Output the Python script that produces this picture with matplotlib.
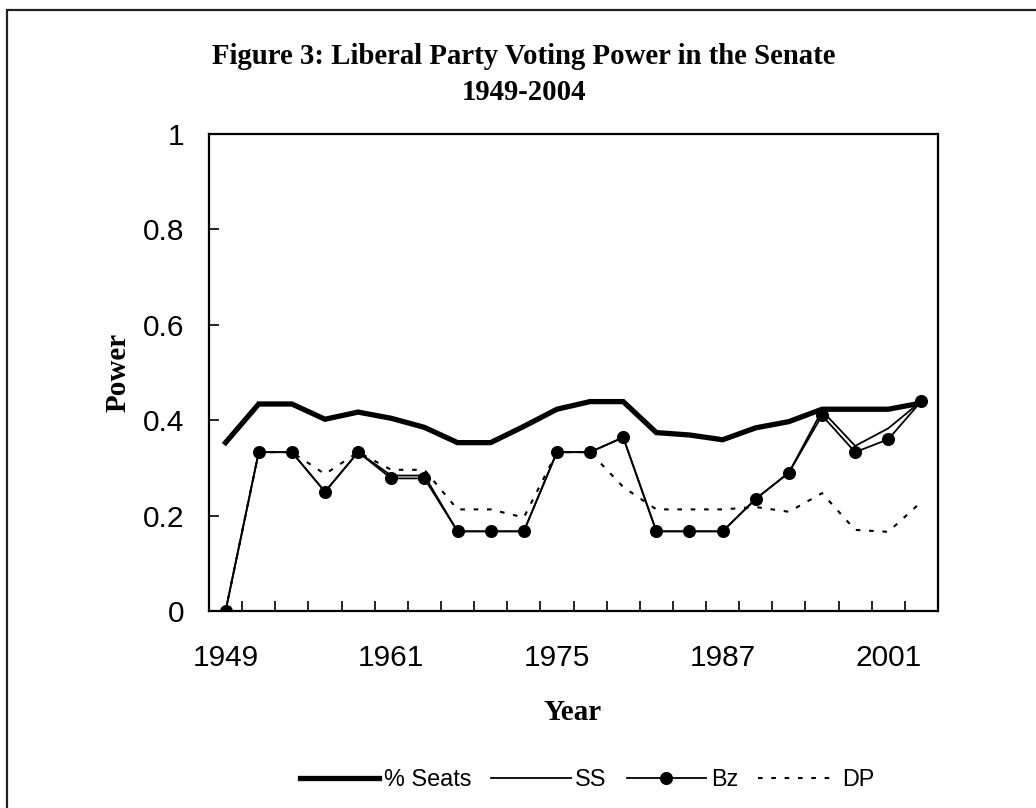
import matplotlib
matplotlib.use("Agg")
import matplotlib.pyplot as plt
from matplotlib.lines import Line2D
from matplotlib.patches import Rectangle

years = [1949, 1951, 1953, 1955, 1958, 1961, 1964, 1967, 1970, 1974, 1975,
         1977, 1980, 1983, 1984, 1987, 1990, 1993, 1996, 1998, 2001, 2004]
seats = [0.353, 0.434, 0.434, 0.402, 0.417, 0.404, 0.385, 0.353, 0.353, 0.387, 0.423,
         0.439, 0.439, 0.374, 0.369, 0.359, 0.384, 0.397, 0.423, 0.423, 0.423, 0.436]
ss = [0.0, 0.333, 0.333, 0.25, 0.333, 0.284, 0.284, 0.167, 0.167, 0.167, 0.333,
      0.333, 0.364, 0.167, 0.167, 0.167, 0.235, 0.29, 0.42, 0.346, 0.383, 0.44]
bz = [0.0, 0.333, 0.333, 0.25, 0.333, 0.278, 0.278, 0.167, 0.167, 0.167, 0.333,
      0.333, 0.364, 0.167, 0.167, 0.167, 0.235, 0.29, 0.41, 0.333, 0.36, 0.44]
dp = [0.0, 0.333, 0.333, 0.287, 0.333, 0.296, 0.296, 0.213, 0.213, 0.196, 0.333,
      0.333, 0.26, 0.213, 0.213, 0.213, 0.218, 0.208, 0.247, 0.17, 0.166, 0.229]
yticks = [0, 0.2, 0.4, 0.6, 0.8, 1]
ytick_labels = ["0", "0.2", "0.4", "0.6", "0.8", "1"]
label_every = 5

W, H = 1036, 808
fig = plt.figure(figsize=(W / 100, H / 100), dpi=100)
fig.patch.set_facecolor("white")

# outer chart border (only top and left visible in crop)
fig.patches.append(Rectangle((7 / W, -0.1), 1.2, (H - 10) / H + 0.1,
                             transform=fig.transFigure, fill=False,
                             edgecolor="#222222", linewidth=1.6))

ax = fig.add_axes([209 / W, (H - 611) / H, 729 / W, 477 / H])
x = list(range(len(years)))

ax.plot(x, seats, color="black", lw=3.8, solid_joinstyle="miter", zorder=3)
ax.plot(x, ss, color="black", lw=1.3, zorder=4)
ax.plot(x, bz, color="black", lw=1.3, marker="o", ms=8.4, zorder=5)
ax.plot(x, dp, color="black", lw=1.5, linestyle=(0, (2.2, 4.2)),
        dash_capstyle="butt", zorder=6)

ax.set_xlim(-0.5, len(years) - 0.5)
ax.set_ylim(0, 1)
ax.set_yticks(yticks)
ax.set_yticklabels(ytick_labels, fontsize=21.5, family="Liberation Sans")
ax.tick_params(axis="y", direction="in", length=7.2, width=1.2, pad=18)

major = x[::label_every]
ax.set_xticks(major)
ax.set_xticklabels([str(years[i]) for i in major], fontsize=21.5, family="Liberation Sans")
ax.set_xticks([i + 0.5 for i in x[:-1]], minor=True)
ax.tick_params(axis="x", which="major", length=0, pad=24)
ax.tick_params(axis="x", which="minor", direction="in", length=7.2, width=1.2)

for s in ax.spines.values():
    s.set_linewidth(1.6)
    s.set_color("black")

fig.text(524 / W, 1 - 64 / H, "Figure 3: Liberal Party Voting Power in the Senate",
         ha="center", va="baseline", fontsize=20.7, fontweight="bold",
         family="Liberation Serif")
fig.text(524 / W, 1 - 100 / H, "1949-2004", ha="center", va="baseline",
         fontsize=20.7, fontweight="bold", family="Liberation Serif")
fig.text(118 / W, 1 - 372 / H, "Power", ha="center", va="center", rotation=90,
         fontsize=21, fontweight="bold", family="Liberation Serif")
fig.text(573 / W, 1 - 713 / H, "Year", ha="center", va="center",
         fontsize=21, fontweight="bold", family="Liberation Serif")

handles = [
    Line2D([], [], color="black", lw=3.8),
    Line2D([], [], color="black", lw=1.3),
    Line2D([], [], color="black", lw=1.3, marker="o", ms=8.4),
    Line2D([], [], color="black", lw=1.5, linestyle=(0, (2.2, 4.2))),
]
leg = fig.legend(handles, ["% Seats", "SS", "Bz", "DP"], loc="center",
                 bbox_to_anchor=(587 / W, 1 - 780 / H), ncol=4, frameon=False,
                 prop={"family": "Liberation Sans", "size": 16.8},
                 handlelength=3.4, handletextpad=0.2, columnspacing=0.85,
                 markerscale=1.0)

fig.savefig("out.png", dpi=100, facecolor="white")
